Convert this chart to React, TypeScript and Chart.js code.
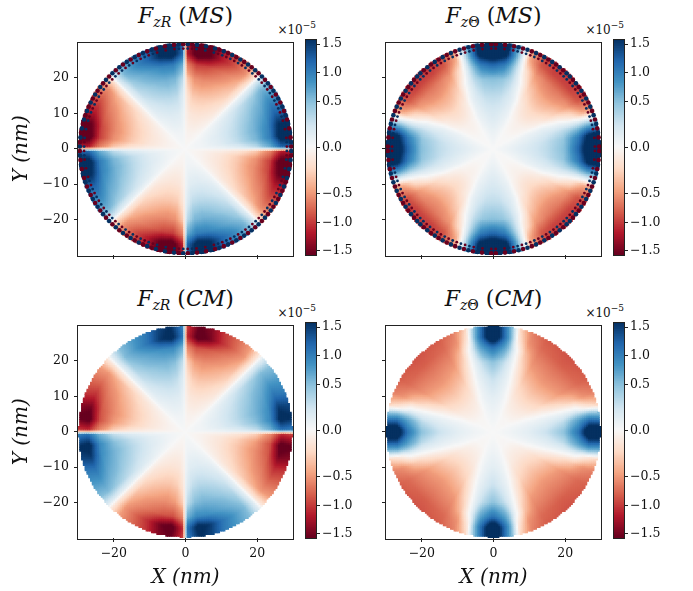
import { useEffect, useRef } from "react"
import { Chart, registerables } from "chart.js"

Chart.register(...registerables)

// Field samples for one octant (angle from the nearest axis, in degrees) at a few radii (nm).
// The rest of the disc follows from the square symmetry seen in the picture.
const RADII = [0, 5, 10, 15, 20, 24, 27, 30]
const ANGLES = [0, 1.5, 8, 15, 22, 30, 38, 43.5, 45]

// values in units of 1e-5, rows follow ANGLES, columns follow RADII
const FZR_MS = [
  [0, 0, 0, 0, 0, 0, 0, 0],
  [0, 0.02, 0.06, 0.14, 0.3, 0.65, 1.2, 1.2],
  [0, 0.05, 0.14, 0.3, 0.55, 1.0, 1.8, 1.8],
  [0, 0.05, 0.15, 0.32, 0.58, 0.95, 1.6, 1.6],
  [0, 0.05, 0.15, 0.3, 0.52, 0.8, 1.2, 1.2],
  [0, 0.04, 0.12, 0.25, 0.42, 0.62, 0.9, 0.9],
  [0, 0.02, 0.08, 0.17, 0.3, 0.42, 0.58, 0.55],
  [0, 0.01, 0.03, 0.06, 0.1, 0.14, 0.2, 0.2],
  [0, 0, 0, 0, 0, 0, 0, 0],
]

const FZT_MS = [
  [0, 0.08, 0.18, 0.3, 0.5, 1.2, 2.0, 2.0],
  [0, 0.08, 0.18, 0.3, 0.5, 1.2, 2.0, 2.0],
  [0, 0.07, 0.16, 0.28, 0.46, 1.0, 1.7, 1.7],
  [0, 0.05, 0.12, 0.2, 0.3, 0.38, 0.5, 0.5],
  [0, 0.03, 0.08, 0.1, 0.03, -0.15, -0.4, -0.5],
  [0, 0, -0.02, -0.1, -0.3, -0.52, -0.85, -0.95],
  [0, -0.01, -0.06, -0.2, -0.42, -0.64, -0.95, -1.05],
  [0, -0.01, -0.07, -0.23, -0.45, -0.68, -0.95, -1.05],
  [0, -0.01, -0.07, -0.23, -0.45, -0.68, -0.95, -1.05],
]

const FZR_CM = [
  [0, 0, 0, 0, 0, 0, 0, 0],
  [0, 0.02, 0.06, 0.14, 0.28, 0.6, 1.1, 1.0],
  [0, 0.05, 0.14, 0.28, 0.5, 0.9, 1.7, 1.6],
  [0, 0.05, 0.15, 0.32, 0.55, 0.85, 1.5, 1.4],
  [0, 0.05, 0.15, 0.3, 0.5, 0.75, 1.1, 1.0],
  [0, 0.04, 0.12, 0.25, 0.42, 0.6, 0.8, 0.75],
  [0, 0.02, 0.08, 0.17, 0.3, 0.42, 0.52, 0.48],
  [0, 0.01, 0.03, 0.06, 0.1, 0.13, 0.16, 0.15],
  [0, 0, 0, 0, 0, 0, 0, 0],
]

const FZT_CM = [
  [0, 0.05, 0.12, 0.25, 0.48, 1.1, 2.0, 2.0],
  [0, 0.05, 0.12, 0.25, 0.47, 1.05, 1.95, 1.95],
  [0, 0.04, 0.1, 0.17, 0.32, 0.7, 1.0, 0.85],
  [0, 0.03, 0.06, 0.08, 0.08, 0.08, -0.1, -0.25],
  [0, 0.01, -0.01, -0.08, -0.2, -0.35, -0.55, -0.65],
  [0, -0.01, -0.1, -0.25, -0.45, -0.62, -0.75, -0.82],
  [0, -0.02, -0.13, -0.3, -0.5, -0.66, -0.8, -0.86],
  [0, -0.02, -0.14, -0.32, -0.52, -0.68, -0.82, -0.88],
  [0, -0.02, -0.14, -0.32, -0.52, -0.68, -0.82, -0.88],
]

// small alternating spots along the rim of the MS maps
const FRINGE_ANGLES = [
  1.25, 3.75, 6.25, 8.75, 11.25, 13.75, 16.25, 18.75, 21.25,
  23.75, 26.25, 28.75, 31.25, 33.75, 36.25, 38.75, 41.25, 43.75,
]
const FRINGE_RADII = [29.5, 28.3]
const FRINGE_ZR_MS = [
  -1.6, 1.6, -1.6, 1.6, -1.6, 1.6, -1.6, 1.6, -1.6,
  1.6, -1.6, 1.6, -1.6, 1.6, -1.6, 1.6, -1.6, 1.6,
]
const FRINGE_ZT_MS = [
  -1.6, 1.6, -1.6, 1.6, -1.6, 1.6, -1.6, 1.6, -1.6,
  1.6, -1.6, 1.6, -1.6, 1.6, -1.6, 1.6, -1.6, 1.6,
]

const X_TICKS = [-20, 0, 20]
const Y_TICKS = [-20, -10, 0, 10, 20]
const CBAR_TICKS = [-1.5, -1.0, -0.5, 0.0, 0.5, 1.0, 1.5]

// colour norm of the colour bar: |value| -> fraction of half the bar
const NORM_VALUES = [0, 0.5, 1.0, 1.5, 1.572]
const NORM_POS = [0, 0.43, 0.7, 0.962, 1]

const RDBU = [
  "#67001f", "#b2182b", "#d6604d", "#f4a582", "#fddbc7", "#f7f7f7",
  "#d1e5f0", "#92c5de", "#4393c3", "#2166ac", "#053061",
]
const RDBU_RGB = RDBU.map((h) => [1, 3, 5].map((k) => parseInt(h.slice(k, k + 2), 16)))

const FONT = "'DejaVu Serif', serif"
const INK = "#111"
const PLOT_W = 215
const PLOT_H = 215
const GRID_N = 120

function cmap(t: number) {
  const s = Math.max(0, Math.min(1, t)) * 10
  const i = Math.min(9, Math.floor(s))
  const f = s - i
  const a = RDBU_RGB[i]
  const b = RDBU_RGB[i + 1]
  const c = a.map((v, k) => Math.round(v + (b[k] - v) * f))
  return `rgb(${c[0]},${c[1]},${c[2]})`
}

function norm(v: number) {
  const a = Math.abs(v)
  const last = NORM_VALUES.length - 1
  if (a >= NORM_VALUES[last]) return Math.sign(v)
  let i = 0
  while (a > NORM_VALUES[i + 1]) i++
  const f = (a - NORM_VALUES[i]) / (NORM_VALUES[i + 1] - NORM_VALUES[i])
  return Math.sign(v) * (NORM_POS[i] + f * (NORM_POS[i + 1] - NORM_POS[i]))
}

const colorOf = (v: number) => cmap(0.5 + 0.5 * norm(v))

function findCell(arr: number[], v: number) {
  let i = 0
  while (i < arr.length - 2 && v > arr[i + 1]) i++
  const f = Math.max(0, Math.min(1, (v - arr[i]) / (arr[i + 1] - arr[i])))
  return [i, f]
}

function lookup(table: number[][], alpha: number, r: number) {
  const [i, fa] = findCell(ANGLES, alpha)
  const [j, fr] = findCell(RADII, r)
  const v0 = table[i][j] * (1 - fr) + table[i][j + 1] * fr
  const v1 = table[i + 1][j] * (1 - fr) + table[i + 1][j + 1] * fr
  return v0 * (1 - fa) + v1 * fa
}

function sample(table: number[][], x: number, y: number, odd: boolean) {
  const r = Math.hypot(x, y)
  let th = (Math.atan2(y, x) * 180) / Math.PI
  if (th < 0) th += 360
  let phi = th % 90
  let sign = 1
  if (phi > 45) {
    phi = 90 - phi
    if (odd) sign = -1
  }
  return sign * lookup(table, phi, r)
}

const fmt = (v: number) => (v < 0 ? "\u2212" + Math.abs(v) : String(v))
const fmtBar = (v: number) => (v < 0 ? "\u2212" + Math.abs(v).toFixed(1) : v.toFixed(1))

const framePlugin = {
  id: "frame",
  afterDraw(chart: Chart) {
    const { ctx, chartArea: a } = chart
    ctx.save()
    ctx.strokeStyle = "#222"
    ctx.lineWidth = 1
    ctx.strokeRect(Math.round(a.left) - 0.5, Math.round(a.top) - 0.5, Math.round(a.right - a.left) + 1, Math.round(a.bottom - a.top) + 1)
    ctx.restore()
  },
}

const tickFont = { family: FONT, size: 12.5 }
const titleFont = { family: FONT, size: 20, style: "italic" as const }

interface HeatmapProps {
  table: number[][]
  odd: boolean
  fringe: number[] | null
  left: number
  top: number
  yLabels: boolean
  xLabels: boolean
}

function Heatmap({ table, odd, fringe, left, top, yLabels, xLabels }: HeatmapProps) {
  const ref = useRef<HTMLCanvasElement>(null)
  const padL = yLabels ? left : 20
  const padB = xLabels ? 52 : 14
  const w = padL + PLOT_W + 10
  const h = 10 + PLOT_H + padB

  useEffect(() => {
    if (!ref.current) return

    const cells: { x: number; y: number }[] = []
    const cellColors: string[] = []
    const step = 60 / GRID_N
    for (let i = 0; i < GRID_N; i++) {
      for (let j = 0; j < GRID_N; j++) {
        const x = -30 + (i + 0.5) * step
        const y = -30 + (j + 0.5) * step
        if (Math.hypot(x, y) > 29.8) continue
        cells.push({ x, y })
        cellColors.push(colorOf(sample(table, x, y, odd)))
      }
    }

    // lower "order" is painted last, so the rim spots sit on top of the cells
    const datasets: any[] = [
      {
        data: cells,
        backgroundColor: cellColors,
        pointStyle: "rect",
        pointRadius: 2.0,
        borderWidth: 0,
        order: 5,
      },
    ]

    if (fringe) {
      FRINGE_RADII.forEach((rr, m) => {
        const pts: { x: number; y: number }[] = []
        const cols: string[] = []
        FRINGE_ANGLES.forEach((a, k) => {
          const v = fringe[k]
          for (let q = 0; q < 4; q++) {
            const pairs: [number, number][] = [
              [90 * q + a, v],
              [90 * q + 90 - a, odd ? -v : v],
            ]
            for (const [ang, val] of pairs) {
              const t = (ang * Math.PI) / 180
              pts.push({ x: rr * Math.cos(t), y: rr * Math.sin(t) })
              cols.push(colorOf(val))
            }
          }
        })
        datasets.push({
          data: pts,
          backgroundColor: cols,
          pointStyle: "circle",
          pointRadius: m === 0 ? 2.3 : 1.4,
          borderWidth: 0,
          order: m,
        })
      })
    }

    const chart = new Chart(ref.current, {
      type: "scatter",
      data: { datasets },
      options: {
        responsive: false,
        animation: false,
        events: [],
        layout: { padding: { left: 0, top: 10, right: 10, bottom: 0 } },
        plugins: { legend: { display: false }, tooltip: { enabled: false } },
        scales: {
          x: {
            type: "linear",
            min: -30,
            max: 30,
            afterBuildTicks: (s: any) => {
              s.ticks = X_TICKS.map((value) => ({ value }))
            },
            afterFit: (s: any) => {
              s.height = padB
            },
            ticks: {
              autoSkip: false,
              maxRotation: 0,
              padding: 4,
              color: INK,
              font: tickFont,
              callback: (v: any) => (xLabels ? fmt(Number(v)) : ""),
            },
            grid: { drawOnChartArea: false, drawTicks: true, tickLength: 4, tickColor: "#222" },
            border: { display: false },
            title: { display: xLabels, text: "X (nm)", color: INK, font: titleFont, padding: { top: 0, bottom: 0 } },
          },
          y: {
            type: "linear",
            min: -30,
            max: 30,
            afterBuildTicks: (s: any) => {
              s.ticks = Y_TICKS.map((value) => ({ value }))
            },
            afterFit: (s: any) => {
              s.width = padL
            },
            ticks: {
              autoSkip: false,
              padding: 5,
              color: INK,
              font: tickFont,
              callback: (v: any) => (yLabels ? fmt(Number(v)) : ""),
            },
            grid: { drawOnChartArea: false, drawTicks: true, tickLength: 4, tickColor: "#222" },
            border: { display: false },
            title: { display: yLabels, text: "Y (nm)", color: INK, font: titleFont, padding: { top: 10, bottom: 0 } },
          },
        },
      },
      plugins: [framePlugin],
    })

    return () => chart.destroy()
  }, [])

  return (
    <canvas
      ref={ref}
      width={w}
      height={h}
      style={{ position: "absolute", left: left - padL, top: top - 10, width: w, height: h }}
    />
  )
}

function ColorBar({ left, top }: { left: number; top: number }) {
  const ref = useRef<HTMLCanvasElement>(null)
  const w = 2 + 10 + 40
  const h = 10 + PLOT_H + 10

  useEffect(() => {
    if (!ref.current) return
    const n = 128
    const datasets = Array.from({ length: n }, (_, k) => {
      const lo = -1 + (2 * k) / n
      const hi = lo + 2 / n + 0.004
      return {
        data: [[lo, Math.min(1, hi)]],
        backgroundColor: cmap((lo + 1 / n + 1) / 2),
        borderWidth: 0,
        grouped: false,
        barPercentage: 1,
        categoryPercentage: 1,
      }
    })

    const chart = new Chart(ref.current, {
      type: "bar",
      data: { labels: [""], datasets: datasets as any },
      options: {
        responsive: false,
        animation: false,
        events: [],
        layout: { padding: { left: 2, top: 10, right: 0, bottom: 10 } },
        plugins: { legend: { display: false }, tooltip: { enabled: false } },
        scales: {
          x: { display: false },
          y: {
            position: "right",
            min: -1,
            max: 1,
            afterBuildTicks: (s: any) => {
              s.ticks = CBAR_TICKS.map((v) => ({ value: norm(v) }))
            },
            afterFit: (s: any) => {
              s.width = 40
            },
            ticks: {
              autoSkip: false,
              padding: 2,
              color: INK,
              font: tickFont,
              callback: (_v: any, i: number) => fmtBar(CBAR_TICKS[i]),
            },
            grid: { drawOnChartArea: false, drawTicks: true, tickLength: 4, tickColor: "#222" },
            border: { display: false },
          },
        },
      },
      plugins: [framePlugin],
    })

    return () => chart.destroy()
  }, [])

  return (
    <canvas
      ref={ref}
      width={w}
      height={h}
      style={{ position: "absolute", left: left - 2, top: top - 10, width: w, height: h }}
    />
  )
}

const COL_L = [78, 386]
const ROW_T = [40, 323]

const PANELS = [
  { table: FZR_MS, odd: true, fringe: FRINGE_ZR_MS, theta: false, tag: "MS", col: 0, row: 0 },
  { table: FZT_MS, odd: false, fringe: FRINGE_ZT_MS, theta: true, tag: "MS", col: 1, row: 0 },
  { table: FZR_CM, odd: true, fringe: null, theta: false, tag: "CM", col: 0, row: 1 },
  { table: FZT_CM, odd: false, fringe: null, theta: true, tag: "CM", col: 1, row: 1 },
]

export default function App() {
  return (
    <div
      style={{
        position: "absolute",
        left: 0,
        top: 0,
        width: 693,
        height: 591,
        overflow: "hidden",
        background: "#fff",
        color: INK,
        fontFamily: FONT,
      }}
    >
      {PANELS.map((p, k) => {
        const left = COL_L[p.col]
        const top = ROW_T[p.row]
        const barL = left + 228
        return (
          <div key={k}>
            <div
              style={{
                position: "absolute",
                left,
                top: top - 37,
                width: PLOT_W,
                textAlign: "center",
                fontSize: 22,
                lineHeight: "26px",
                whiteSpace: "nowrap",
              }}
            >
              <i>F</i>
              <sub style={{ fontSize: 14, verticalAlign: "baseline", position: "relative", top: 4 }}>
                {p.theta ? (
                  <>
                    <i>z</i>Θ
                  </>
                ) : (
                  <i>zR</i>
                )}
              </sub>{" "}
              (<i>{p.tag}</i>)
            </div>
            <div
              style={{
                position: "absolute",
                left: barL + 10 - 70,
                width: 70,
                top: top - 17,
                textAlign: "right",
                fontSize: 12,
                lineHeight: "14px",
                whiteSpace: "nowrap",
              }}
            >
              ×10
              <sup style={{ fontSize: 9, verticalAlign: "baseline", position: "relative", top: -6 }}>−5</sup>
            </div>
            <Heatmap
              table={p.table}
              odd={p.odd}
              fringe={p.fringe}
              left={left}
              top={top}
              yLabels={p.col === 0}
              xLabels={p.row === 1}
            />
            <ColorBar left={barL} top={top} />
          </div>
        )
      })}
    </div>
  )
}
